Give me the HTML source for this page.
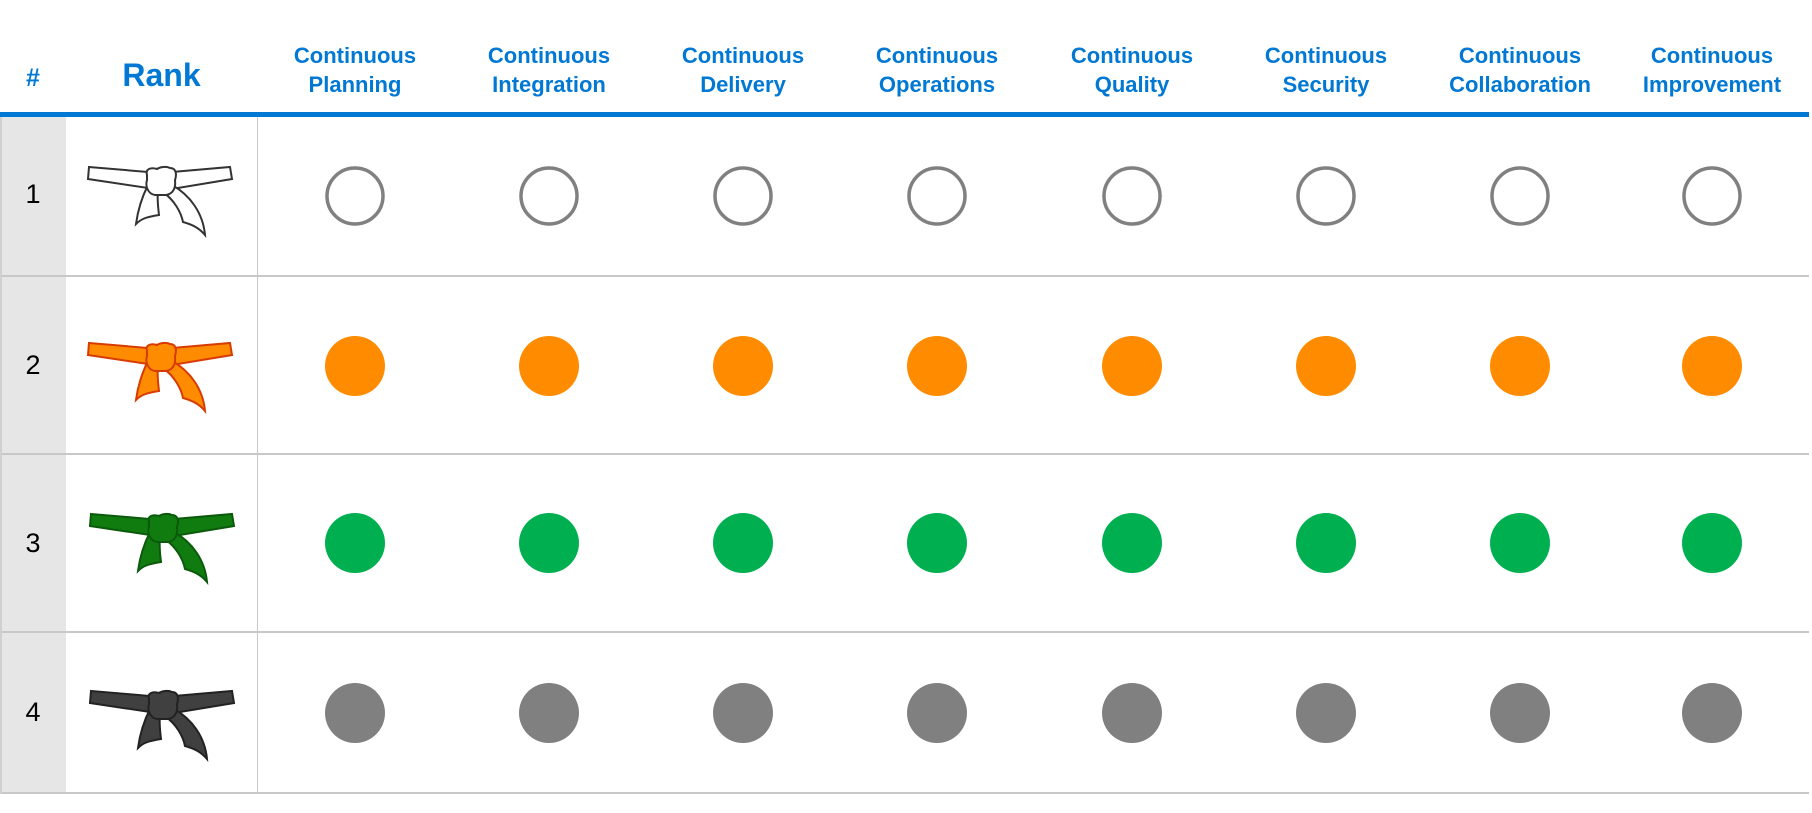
<!DOCTYPE html>
<html><head><meta charset="utf-8"><style>
body{margin:0;width:1812px;height:813px;background:#fff;position:relative;overflow:hidden;font-family:"Liberation Sans",sans-serif}
.a{position:absolute}
.h{position:absolute;color:#0078d4;font-weight:bold;font-size:22px;line-height:29px;text-align:center;width:194px;top:41px}
.n{position:absolute;left:0;width:66px;text-align:center;font-size:27px;color:#000}
</style></head><body>
<div class="a" style="left:0;top:117px;width:66px;height:677px;background:#e6e6e6"></div>
<div class="a" style="left:0;top:112px;width:1809px;height:5px;background:#0078d4"></div>
<div class="a" style="left:0;top:275px;width:1809px;height:2px;background:#c8c8c8"></div>
<div class="a" style="left:0;top:453px;width:1809px;height:2px;background:#c8c8c8"></div>
<div class="a" style="left:0;top:631px;width:1809px;height:2px;background:#c8c8c8"></div>
<div class="a" style="left:0;top:792px;width:1809px;height:2px;background:#c8c8c8"></div>
<div class="a" style="left:257px;top:117px;width:1px;height:677px;background:#c8c8c8"></div>
<div class="a" style="left:0;top:117px;width:2px;height:677px;background:#d0d0d0"></div>
<div class="a" style="left:0;top:64px;width:66px;text-align:center;color:#0078d4;font-weight:bold;font-size:25px">#</div>
<div class="a" style="left:66px;top:57px;width:191px;text-align:center;color:#0078d4;font-weight:bold;font-size:32px">Rank</div>
<div class="h" style="left:258px">Continuous<br>Planning</div>
<div class="h" style="left:452px">Continuous<br>Integration</div>
<div class="h" style="left:646px">Continuous<br>Delivery</div>
<div class="h" style="left:840px">Continuous<br>Operations</div>
<div class="h" style="left:1035px">Continuous<br>Quality</div>
<div class="h" style="left:1229px">Continuous<br>Security</div>
<div class="h" style="left:1423px">Continuous<br>Collaboration</div>
<div class="h" style="left:1615px">Continuous<br>Improvement</div>
<div class="n" style="top:179px">1</div>
<div class="n" style="top:350px">2</div>
<div class="n" style="top:528px">3</div>
<div class="n" style="top:697px">4</div>
<svg class="a" style="left:0;top:0" width="1812" height="813">
<defs>
<g id="belt">
<path d="M1,0 L60,5 L60,21 L0,12 Z"/>
<path d="M84,5 L142,0 L144,12 L84,22 Z"/>
<path d="M60,18 C54,30 50,42 48,57 C53,52 58,50 71,48 C70,40 69,32 70,24 Z"/>
<path d="M84,18 C102,28 115,46 117,68 C112,62 106,58 95,55 C93,45 86,33 76,26 Z"/>
<path d="M59,8 C57,2 63,0 69,2 C72,0 78,-1 82,1 C88,1 89,7 87,13 C88,21 85,27 78,28 L67,28 C60,27 57,19 59,13 Z"/>
</g>
</defs>
<use href="#belt" x="88" y="167" fill="#fff" stroke="#333" stroke-width="2"/>
<use href="#belt" x="88" y="343" fill="#ff8c00" stroke="#d83b01" stroke-width="2"/>
<use href="#belt" x="90" y="514" fill="#107c10" stroke="#0b5a0b" stroke-width="2"/>
<use href="#belt" x="90" y="691" fill="#404040" stroke="#222" stroke-width="2"/>
<g fill="none" stroke="#808080" stroke-width="3.5">
<circle cx="355" cy="196" r="28"/><circle cx="549" cy="196" r="28"/><circle cx="743" cy="196" r="28"/><circle cx="937" cy="196" r="28"/><circle cx="1132" cy="196" r="28"/><circle cx="1326" cy="196" r="28"/><circle cx="1520" cy="196" r="28"/><circle cx="1712" cy="196" r="28"/>
</g>
<g fill="#ff8c00">
<circle cx="355" cy="366" r="30"/><circle cx="549" cy="366" r="30"/><circle cx="743" cy="366" r="30"/><circle cx="937" cy="366" r="30"/><circle cx="1132" cy="366" r="30"/><circle cx="1326" cy="366" r="30"/><circle cx="1520" cy="366" r="30"/><circle cx="1712" cy="366" r="30"/>
</g>
<g fill="#00b050">
<circle cx="355" cy="543" r="30"/><circle cx="549" cy="543" r="30"/><circle cx="743" cy="543" r="30"/><circle cx="937" cy="543" r="30"/><circle cx="1132" cy="543" r="30"/><circle cx="1326" cy="543" r="30"/><circle cx="1520" cy="543" r="30"/><circle cx="1712" cy="543" r="30"/>
</g>
<g fill="#808080">
<circle cx="355" cy="713" r="30"/><circle cx="549" cy="713" r="30"/><circle cx="743" cy="713" r="30"/><circle cx="937" cy="713" r="30"/><circle cx="1132" cy="713" r="30"/><circle cx="1326" cy="713" r="30"/><circle cx="1520" cy="713" r="30"/><circle cx="1712" cy="713" r="30"/>
</g>
</svg>
</body></html>
